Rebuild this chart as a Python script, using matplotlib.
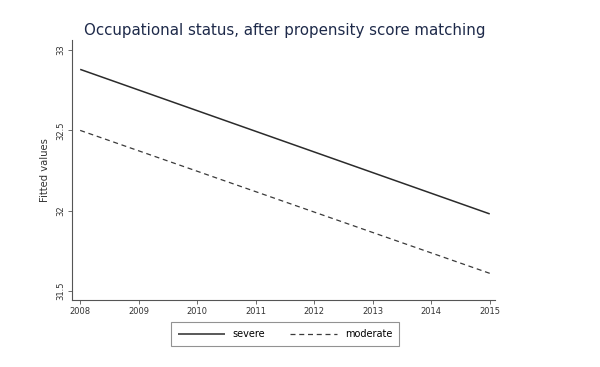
import matplotlib
matplotlib.use("Agg")
import matplotlib.pyplot as plt

years = [2008, 2009, 2010, 2011, 2012, 2013, 2014, 2015]
severe_ends = [32.88, 31.98]
moderate_ends = [32.50, 31.61]
yticks = [31.5, 32, 32.5, 33]
ytick_labels = ["31.5", "32", "32.5", "33"]

fig = plt.figure(figsize=(6.0, 3.67), dpi=100)
ax = fig.add_axes([0.12, 0.1826, 0.705, 0.708])
ax.plot([years[0], years[-1]], severe_ends, color="#2b2b2b", lw=1.1, solid_capstyle="butt", label="severe")
ax.plot([years[0], years[-1]], moderate_ends, color="#3a3a3a", lw=0.9, ls=(0, (4, 3)), label="moderate")
ax.set_xlim(2007.86, 2015.09)
ax.set_ylim(31.444, 33.062)
ax.set_xticks(years)
ax.set_xticklabels([str(y) for y in years], fontsize=6, color="#333333")
ax.set_yticks(yticks)
ax.set_yticklabels(ytick_labels, fontsize=6, color="#333333", rotation=90, va="center")
for s in ["top", "right"]:
    ax.spines[s].set_visible(False)
for s in ["left", "bottom"]:
    ax.spines[s].set_color("#555555")
    ax.spines[s].set_linewidth(0.8)
ax.tick_params(axis="both", length=3, width=0.6, color="#555555", pad=2)
ax.set_ylabel("Fitted values", fontsize=7.2, color="#333333", labelpad=4)
fig.text(0.474, 0.918, "Occupational status, after propensity score matching",
         ha="center", va="center", fontsize=10.8, color="#1e2a4a")
leg = fig.legend(loc="center", bbox_to_anchor=(0.475, 0.09), ncol=2, fontsize=7,
                 frameon=True, fancybox=False, edgecolor="#777777", handlelength=4.8,
                 columnspacing=2.6, borderpad=0.7)
leg.get_frame().set_linewidth(0.8)
fig.savefig("out.png", dpi=100, facecolor="white")
